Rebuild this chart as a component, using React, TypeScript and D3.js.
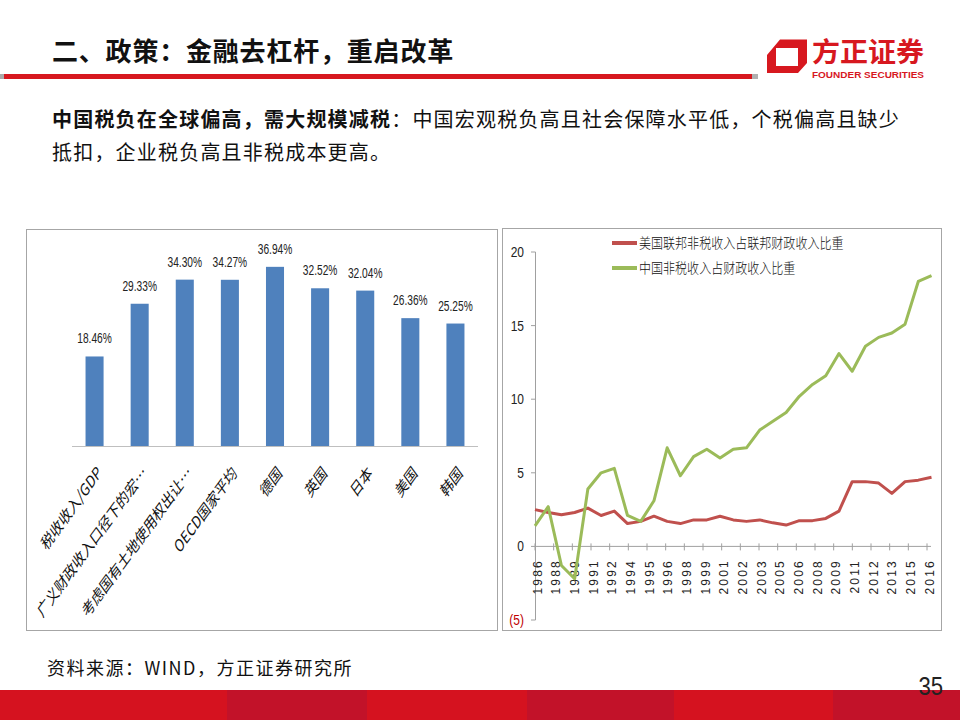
import React from 'react';
import * as d3 from 'd3';

const barCategories = ['税收收入/GDP', '广义财政收入口径下的宏…', '考虑国有土地使用权出让…', 'OECD国家平均', '德国', '英国', '日本', '美国', '韩国'];
const barValues = [18.46, 29.33, 34.30, 34.27, 36.94, 32.52, 32.04, 26.36, 25.25];

const years = ['1986','1987','1988','1989','1990','1991','1992','1993','1994','1995','1996','1997','1998','1999','2000','2001','2002','2003','2004','2005','2006','2007','2008','2009','2010','2011','2012','2013','2014','2015','2016'];
const usNonTax = [2.5, 2.3, 2.15, 2.3, 2.6, 2.1, 2.4, 1.55, 1.7, 2.05, 1.7, 1.55, 1.8, 1.8, 2.05, 1.8, 1.7, 1.8, 1.6, 1.45, 1.75, 1.75, 1.9, 2.4, 4.4, 4.4, 4.3, 3.6, 4.4, 4.5, 4.7];
const cnNonTax = [1.4, 2.7, -1.3, -2.2, 3.9, 5.0, 5.3, 2.1, 1.7, 3.1, 6.7, 4.8, 6.1, 6.6, 6.0, 6.6, 6.7, 7.9, 8.5, 9.1, 10.2, 11.0, 11.6, 13.1, 11.9, 13.6, 14.2, 14.5, 15.1, 18.0, 18.4];
const seriesNames = ['美国联邦非税收入占联邦财政收入比重', '中国非税收入占财政收入比重'];
const yTicks = [-5, 0, 5, 10, 15, 20];
const xTickLabels = ['1986','1988','1989','1991','1992','1994','1995','1996','1998','1999','2001','2002','2003','2005','2006','2008','2009','2011','2012','2013','2015','2016'];

const RED = '#C0504D';
const GREEN = '#9BBB59';
const BLUE = '#4F81BD';
const CJK = '"Noto Sans CJK SC", "Noto Sans", sans-serif';
const LAT = '"Liberation Sans", Arial, sans-serif';

export default function App() {
  // Left bar chart scales
  const xBar = d3.scaleBand<string>().domain(barCategories).range([72, 478]).paddingInner(0.6).paddingOuter(0.3);
  const yBar = d3.scaleLinear().domain([0, 40]).range([446, 252]);

  // Right line chart scales
  const xYear = d3.scalePoint<string>().domain(years).range([535, 931.5]);
  const xTick = d3.scalePoint<string>().domain(xTickLabels).range([535, 927]);
  const yLine = d3.scaleLinear().domain([-5, 20]).range([620, 252]);
  const line = d3.line<number>().x((_, i) => xYear(years[i]) as number).y((v) => yLine(v));

  const bandSegs = [[0, 227, '#D5121F'], [227, 367, '#C21229'], [367, 527, '#D5121F'], [527, 674, '#C21229'], [674, 833, '#D5121F'], [833, 960, '#C21229']] as const;

  return (
    <svg width={960} height={720} style={{ position: 'absolute', left: 0, top: 0, background: '#fff' }}>
      <rect x={0} y={0} width={960} height={720} fill="#fff" />
      {/* Header */}
      <text x={52} y={61} fontFamily={CJK} fontWeight={700} fontSize={26} letterSpacing={0.8} fill="#111">二、政策：金融去杠杆，重启改革</text>
      <rect x={0} y={74} width={752} height={5} fill="#D7181F" />
      <rect x={0} y={74} width={4} height={5} fill="#aaa" />
      <rect x={752} y={74} width={6} height={5} fill="#b0b0b0" />
      {/* Logo */}
      <path d="M767,55 L780,39.5 L807,39.5 L807,63 L798,73 L767,73 Z M776,48 L776,66 L798,66 L798,48 Z" fill="#D7181F" fillRule="evenodd" />
      <text x={812} y={62} fontFamily={CJK} fontWeight={700} fontSize={27} fill="#D7181F" textLength={112} lengthAdjust="spacingAndGlyphs">方正证券</text>
      <text x={812} y={78} fontFamily={LAT} fontWeight={700} fontSize={9} fill="#D7181F" textLength={112} lengthAdjust="spacingAndGlyphs">FOUNDER SECURITIES</text>

      {/* Subtitle */}
      <text x={52} y={127} fontFamily={CJK} fontSize={20} fill="#111" letterSpacing={1.2}>
        <tspan fontWeight={700}>中国税负在全球偏高，需大规模减税</tspan>
        <tspan>：中国宏观税负高且社会保障水平低，个税偏高且缺少</tspan>
      </text>
      <text x={52} y={160} fontFamily={CJK} fontSize={20} fill="#111" letterSpacing={1.2}>抵扣，企业税负高且非税成本更高。</text>

      {/* Left chart */}
      <rect x={26.5} y={229.5} width={471} height={401} fill="#fff" stroke="#a6a6a6" strokeWidth={1} />
      {barCategories.map((c, i) => {
        const x = xBar(c) as number;
        const y = yBar(barValues[i]);
        return (
          <g key={c}>
            <rect x={x} y={y} width={xBar.bandwidth()} height={yBar(0) - y} fill={BLUE} />
            <g transform={`translate(${x + xBar.bandwidth() / 2},${y - 13}) scale(0.68,1)`}>
              <text x={0} y={0} textAnchor="middle" fontFamily={LAT} fontSize={15} fill="#222">
                {barValues[i].toFixed(2)}%
              </text>
            </g>
          </g>
        );
      })}
      <line x1={72} x2={478} y1={446.5} y2={446.5} stroke="#bfbfbf" strokeWidth={1} />
      {barCategories.map((c) => {
        const cx = (xBar(c) as number) + xBar.bandwidth() / 2;
        return (
          <g key={'l' + c} transform={`translate(${cx + 8},${474}) scale(0.73,1) rotate(-45)`}>
            <text x={0} y={0} textAnchor="end" fontFamily={CJK} fontWeight={400} fontSize={17} fill="#111">{c}</text>
          </g>
        );
      })}

      {/* Right chart */}
      <rect x={502.5} y={228.5} width={439} height={402} fill="#fff" stroke="#a6a6a6" strokeWidth={1} />
      <line x1={535.5} x2={535.5} y1={yLine(20)} y2={yLine(-5)} stroke="#a0a0a0" strokeWidth={1} />
      {yTicks.map((t) => (
        <g key={'yt' + t}>
          <line x1={531} x2={535.5} y1={yLine(t)} y2={yLine(t)} stroke="#a0a0a0" strokeWidth={1} />
          <g transform={`translate(524,${yLine(t) + 5}) scale(0.8,1)`}>
            <text x={0} y={0} textAnchor="end" fontFamily={LAT} fontSize={15} fill={t < 0 ? '#C00000' : '#222'}>
              {t < 0 ? `(${Math.abs(t)})` : t}
            </text>
          </g>
        </g>
      ))}
      <line x1={535} x2={931} y1={yLine(0)} y2={yLine(0)} stroke="#a0a0a0" strokeWidth={1} />
      {xTickLabels.map((l) => {
        const x = xTick(l) as number;
        return (
          <g key={'xt' + l}>
            <line x1={x} x2={x} y1={yLine(0) - 3} y2={yLine(0) + 4} stroke="#a0a0a0" strokeWidth={1} />
            <text transform={`translate(${x + 6.5},${559}) rotate(-90)`} textAnchor="end" fontFamily={LAT} fontSize={12} letterSpacing={2.2} fill="#222">{l}</text>
          </g>
        );
      })}
      <path d={line(usNonTax) as string} fill="none" stroke={RED} strokeWidth={3} strokeLinejoin="round" />
      <path d={line(cnNonTax) as string} fill="none" stroke={GREEN} strokeWidth={3} strokeLinejoin="round" />
      {/* Legend */}
      {seriesNames.map((n, i) => (
        <g key={n}>
          <line x1={612} x2={637} y1={243 + i * 25} y2={243 + i * 25} stroke={i === 0 ? RED : GREEN} strokeWidth={4} />
          <g transform={`translate(639,${248 + i * 25}) scale(0.86,1)`}>
            <text x={0} y={0} fontFamily={CJK} fontWeight={300} fontSize={14} fill="#111">{n}</text>
          </g>
        </g>
      ))}

      {/* Footer */}
      <text x={47} y={675} fontFamily={CJK} fontSize={18} letterSpacing={1.5} fill="#111">资料来源：WIND，方正证券研究所</text>
      {bandSegs.map(([a, b, c], i) => (
        <rect key={'b' + i} x={a} y={690} width={b - a} height={30} fill={c} />
      ))}
      <g transform="translate(943,695) scale(0.85,1)">
        <text x={0} y={0} textAnchor="end" fontFamily={LAT} fontSize={26} fill="#222">35</text>
      </g>
    </svg>
  );
}
